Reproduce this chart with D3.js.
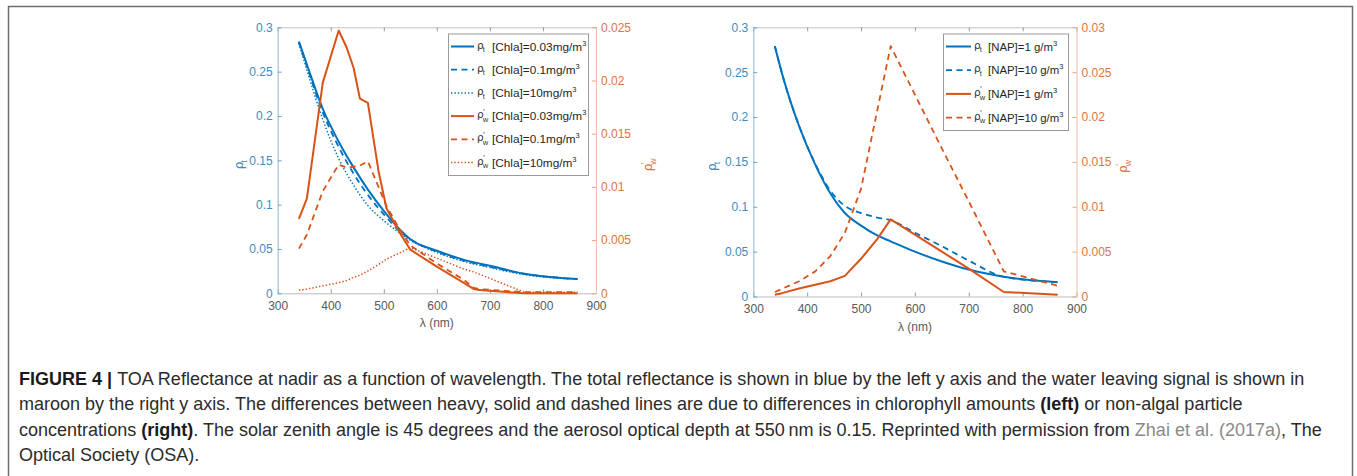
<!DOCTYPE html>
<html>
<head>
<meta charset="utf-8">
<script src="https://cdn.jsdelivr.net/npm/d3@7"></script>
<style>
  body { margin: 0; background: #fff; }
  svg { display: block; font-family: "Liberation Sans", Arial, Helvetica, sans-serif; }
</style>
</head>
<body>
<svg id="fig" width="1357" height="476"></svg>
<script>
// ---------- Left panel: chlorophyll cases ----------
const lambdaChlaT = [340, 355, 385, 415, 443, 470, 500, 530, 550, 600, 650, 700, 765, 865];
const rhoTChla003 = [0.284, 0.258, 0.208, 0.171, 0.142, 0.117, 0.093, 0.072, 0.061, 0.048, 0.038, 0.031, 0.022, 0.016];
const rhoTChla01  = [0.283, 0.256, 0.204, 0.165, 0.135, 0.111, 0.089, 0.070, 0.061, 0.047, 0.037, 0.030, 0.022, 0.016];
const rhoTChla10  = [0.282, 0.252, 0.196, 0.152, 0.122, 0.099, 0.082, 0.068, 0.060, 0.046, 0.036, 0.029, 0.021, 0.016];

const lambdaChlaW = [340, 355, 385, 415, 430, 443, 455, 470, 490, 505, 530, 550, 600, 650, 670, 680, 765, 865];
const rhoWChla003 = [0.0070, 0.0089, 0.0198, 0.0247, 0.0231, 0.0212, 0.0183, 0.0179, 0.0115, 0.0080, 0.0057, 0.0041, 0.0025, 0.0010, 0.0004, 0.0003, 0.0000, 0.0000];
const rhoWChla01  = [0.0042, 0.0055, 0.0096, 0.0121, 0.0118, 0.0119, 0.0120, 0.0124, 0.0100, 0.0082, 0.0060, 0.0045, 0.0028, 0.0013, 0.0005, 0.0004, 0.0001, 0.0001];
const rhoWChla10  = [0.0003, 0.0004, 0.0007, 0.0010, 0.0012, 0.0015, 0.0017, 0.0021, 0.0027, 0.0032, 0.0038, 0.0043, 0.0033, 0.0023, 0.0020, 0.0018, 0.0001, 0.0001];

// ---------- Right panel: non-algal particle cases ----------
const lambdaNap  = [340, 355, 385, 415, 443, 470, 500, 530, 555, 600, 650, 700, 765, 865];
const rhoTNap1   = [0.279, 0.245, 0.190, 0.147, 0.115, 0.093, 0.079, 0.068, 0.0615, 0.050, 0.039, 0.030, 0.022, 0.016];
const rhoTNap10  = [0.279, 0.245, 0.190, 0.148, 0.118, 0.101, 0.093, 0.088, 0.085, 0.071, 0.056, 0.040, 0.022, 0.016];
const rhoWNap1   = [0.0002, 0.0004, 0.0009, 0.0013, 0.0017, 0.0023, 0.0042, 0.0064, 0.0086, 0.0069, 0.0050, 0.0031, 0.0005, 0.0002];
const rhoWNap10  = [0.0005, 0.0009, 0.0017, 0.0028, 0.0045, 0.0071, 0.0120, 0.0207, 0.0279, 0.0225, 0.0165, 0.0106, 0.0028, 0.0012];

// ---------- Tick labels ----------
const xTicks = [300, 400, 500, 600, 700, 800, 900];
const yLeftTicks = [0, 0.05, 0.1, 0.15, 0.2, 0.25, 0.3];
const yLeftTickLabels = ["0", "0.05", "0.1", "0.15", "0.2", "0.25", "0.3"];
const yRightTicksChla = [0, 0.005, 0.01, 0.015, 0.02, 0.025];
const yRightTickLabelsChla = ["0", "0.005", "0.01", "0.015", "0.02", "0.025"];
const yRightTicksNap = [0, 0.005, 0.01, 0.015, 0.02, 0.025, 0.03];
const yRightTickLabelsNap = ["0", "0.005", "0.01", "0.015", "0.02", "0.025", "0.03"];

// ---------- Legend labels ----------
const chlaLegend = ["[Chla]=0.03mg/m", "[Chla]=0.1mg/m", "[Chla]=10mg/m"];
const napLegend = ["[NAP]=1 g/m", "[NAP]=10 g/m"];

const BLUE = "#0072BD";
const ORANGE = "#D95319";
const DASH = { solid: null, dashed: "6,4.5", dotted: "1.4,2" };
const WIDTH = { solid: 2, dashed: 1.8, dotted: 1.5 };

const svg = d3.select("#fig");

// outer frame of the figure
svg.append("rect")
  .attr("x", 8.5).attr("y", 6.5).attr("width", 1344).attr("height", 480)
  .attr("fill", "none").attr("stroke", "#6f6f6f").attr("stroke-width", 1.5);

// rho symbol with optional prime and subscript
function rhoSymbol(g, x, y, sub, prime, fs, color) {
  g.append("text").attr("x", x).attr("y", y)
    .attr("font-size", fs).attr("fill", color)
    .attr("font-family", "'DejaVu Sans', sans-serif").text("ρ");
  const w = fs * 0.55;
  if (prime) {
    g.append("text").attr("x", x + w + 0.5).attr("y", y - fs * 0.42)
      .attr("font-size", fs * 0.75).attr("fill", color).text("′");
  }
  g.append("text").attr("x", x + w).attr("y", y + fs * 0.35)
    .attr("font-size", fs * 0.72).attr("fill", color).text(sub);
}

function drawPanel(p) {
  const x = d3.scaleLinear().domain([300, 900]).range([p.x0, p.x1]);
  const yL = d3.scaleLinear().domain([0, 0.3]).range([p.y0, p.y1]);
  const yR = d3.scaleLinear().domain([0, p.rightMax]).range([p.y0, p.y1]);
  const g = svg.append("g");

  // bottom axis with labels
  const bottom = g.append("g").attr("transform", `translate(0,${p.y0})`)
    .call(d3.axisBottom(x).tickValues(xTicks).tickSizeInner(-4).tickSizeOuter(0).tickPadding(8).tickFormat(d3.format("d")));
  bottom.select(".domain").attr("stroke", "#bdbdbd");
  bottom.selectAll(".tick line").attr("stroke", "#9a9a9a");
  bottom.selectAll(".tick text").attr("fill", "#595959").attr("font-size", 12).attr("font-family", "'Liberation Sans', Arial, sans-serif");

  // top axis, ticks only
  const top = g.append("g").attr("transform", `translate(0,${p.y1})`)
    .call(d3.axisTop(x).tickValues(xTicks).tickSizeInner(-4).tickSizeOuter(0).tickFormat(""));
  top.select(".domain").attr("stroke", "#c4c4c4");
  top.selectAll(".tick line").attr("stroke", "#9a9a9a");

  // left axis
  const left = g.append("g").attr("transform", `translate(${p.x0},0)`)
    .call(d3.axisLeft(yL).tickValues(yLeftTicks).tickSizeInner(-4).tickSizeOuter(0).tickPadding(5)
      .tickFormat((d, i) => yLeftTickLabels[i]));
  left.select(".domain").attr("stroke", "#8fb7d6");
  left.selectAll(".tick line").attr("stroke", "#6fa3cc");
  left.selectAll(".tick text").attr("fill", "#3f8bbf").attr("font-size", 12).attr("font-family", "'Liberation Sans', Arial, sans-serif");

  // right axis
  const right = g.append("g").attr("transform", `translate(${p.x1},0)`)
    .call(d3.axisRight(yR).tickValues(p.rightTicks).tickSizeInner(-4).tickSizeOuter(0).tickPadding(5)
      .tickFormat((d, i) => p.rightLabels[i]));
  right.select(".domain").attr("stroke", "#efbfa6");
  right.selectAll(".tick line").attr("stroke", "#e6a383");
  right.selectAll(".tick text").attr("fill", "#de7344").attr("font-size", 12).attr("font-family", "'Liberation Sans', Arial, sans-serif");

  // axis titles
  g.append("text").attr("x", (p.x0 + p.x1) / 2).attr("y", p.y0 + 34)
    .attr("text-anchor", "middle").attr("font-size", 12).attr("fill", "#595959")
    .text("λ (nm)");
  const lt = g.append("g").attr("transform", `translate(${p.leftTitleX},${(p.y0 + p.y1) / 2 + 4}) rotate(-90)`);
  rhoSymbol(lt, -5, 0, "t", false, 12, "#3f8bbf");
  const rt = g.append("g").attr("transform", `translate(${p.rightTitleX},${(p.y0 + p.y1) / 2 + 6}) rotate(-90)`);
  rhoSymbol(rt, -5, 0, "w", true, 12, "#de7344");

  // data lines
  const plot = g.append("g");
  p.series.forEach(s => {
    const yS = s.axis === "left" ? yL : yR;
    const line = d3.line()
      .x((d, i) => x(s.lambda[i]))
      .y(d => yS(d))
      .curve(s.axis === "left" ? d3.curveMonotoneX : d3.curveLinear);
    plot.append("path")
      .attr("d", line(s.values))
      .attr("fill", "none")
      .attr("stroke", s.color)
      .attr("stroke-width", WIDTH[s.style])
      .attr("stroke-dasharray", DASH[s.style])
      .attr("stroke-linejoin", "round");
  });

  // legend
  const L = p.legend;
  const lg = g.append("g");
  lg.append("rect").attr("x", L.x + 0.5).attr("y", L.y + 0.5).attr("width", L.w).attr("height", L.h)
    .attr("fill", "#fff").attr("stroke", "#9a9a9a").attr("stroke-width", 1);
  p.series.forEach((s, i) => {
    const cy = L.y + L.first + i * L.step;
    lg.append("line").attr("x1", L.x + 3).attr("x2", L.x + 3 + L.sample)
      .attr("y1", cy).attr("y2", cy)
      .attr("stroke", s.color).attr("stroke-width", WIDTH[s.style])
      .attr("stroke-dasharray", DASH[s.style]);
    const tx = L.x + 3 + L.sample + 3;
    rhoSymbol(lg, tx, cy + 2, s.axis === "left" ? "t" : "w", s.axis !== "left", 10.5, "#333");
    const t = lg.append("text").attr("x", tx + L.textOffset).attr("y", cy + 4)
      .attr("font-size", L.fs).attr("fill", "#262626").text(s.label);
    t.append("tspan").attr("dy", -5).attr("font-size", 7.5).text("3");
  });
}

drawPanel({
  x0: 277.7, x1: 596, y0: 293.3, y1: 27.3,
  rightMax: 0.025, rightTicks: yRightTicksChla, rightLabels: yRightTickLabelsChla,
  leftTitleX: 243, rightTitleX: 652,
  legend: { x: 448, y: 33.5, w: 140, h: 141.5, first: 13, step: 23.2, sample: 23, textOffset: 15, fs: 11.8 },
  series: [
    { lambda: lambdaChlaT, values: rhoTChla003, axis: "left", color: BLUE, style: "solid", label: chlaLegend[0] },
    { lambda: lambdaChlaT, values: rhoTChla01, axis: "left", color: BLUE, style: "dashed", label: chlaLegend[1] },
    { lambda: lambdaChlaT, values: rhoTChla10, axis: "left", color: BLUE, style: "dotted", label: chlaLegend[2] },
    { lambda: lambdaChlaW, values: rhoWChla003, axis: "right", color: ORANGE, style: "solid", label: chlaLegend[0] },
    { lambda: lambdaChlaW, values: rhoWChla01, axis: "right", color: ORANGE, style: "dashed", label: chlaLegend[1] },
    { lambda: lambdaChlaW, values: rhoWChla10, axis: "right", color: ORANGE, style: "dotted", label: chlaLegend[2] }
  ]
});

drawPanel({
  x0: 753.3, x1: 1076.5, y0: 296.5, y1: 27.3,
  rightMax: 0.03, rightTicks: yRightTicksNap, rightLabels: yRightTickLabelsNap,
  leftTitleX: 716, rightTitleX: 1127,
  legend: { x: 943, y: 33.5, w: 125, h: 96.5, first: 13, step: 23.7, sample: 25, textOffset: 14, fs: 11.4 },
  series: [
    { lambda: lambdaNap, values: rhoTNap1, axis: "left", color: BLUE, style: "solid", label: napLegend[0] },
    { lambda: lambdaNap, values: rhoTNap10, axis: "left", color: BLUE, style: "dashed", label: napLegend[1] },
    { lambda: lambdaNap, values: rhoWNap1, axis: "right", color: ORANGE, style: "solid", label: napLegend[0] },
    { lambda: lambdaNap, values: rhoWNap10, axis: "right", color: ORANGE, style: "dashed", label: napLegend[1] }
  ]
});

// ---------- Caption ----------
const captionLines = [
  [["FIGURE 4 | ", "b"], ["TOA Reflectance at nadir as a function of wavelength. The total reflectance is shown in blue by the left y axis and the water leaving signal is shown in", "n"]],
  [["maroon by the right y axis. The differences between heavy, solid and dashed lines are due to differences in chlorophyll amounts ", "n"], ["(left)", "b"], [" or non-algal particle", "n"]],
  [["concentrations ", "n"], ["(right)", "b"], [". The solar zenith angle is 45 degrees and the aerosol optical depth at 550\u2009nm is 0.15. Reprinted with permission from ", "n"], ["Zhai et al. (2017a)", "l"], [", The", "n"]],
  [["Optical Society (OSA).", "n"]]
];
const cap = svg.append("g").attr("font-family", "'Liberation Sans', Arial, sans-serif").attr("fill", "#2b2b2b");
const capX = 19, capTarget = 1286;
const capTexts = captionLines.map((parts, i) => {
  const t = cap.append("text").attr("x", capX).attr("y", 385 + i * 25.3).attr("font-size", 15);
  parts.forEach(([s, k]) => {
    const ts = t.append("tspan").text(s);
    if (k === "b") ts.attr("font-weight", "bold").attr("fill", "#1a1a1a");
    if (k === "l") ts.attr("fill", "#8a8a8a");
  });
  return t;
});
// fit the caption font to the column width using the first line
const w0 = capTexts[0].node().getComputedTextLength();
const fs = 15 * capTarget / w0;
capTexts.forEach(t => t.attr("font-size", fs));
</script>
</body>
</html>
